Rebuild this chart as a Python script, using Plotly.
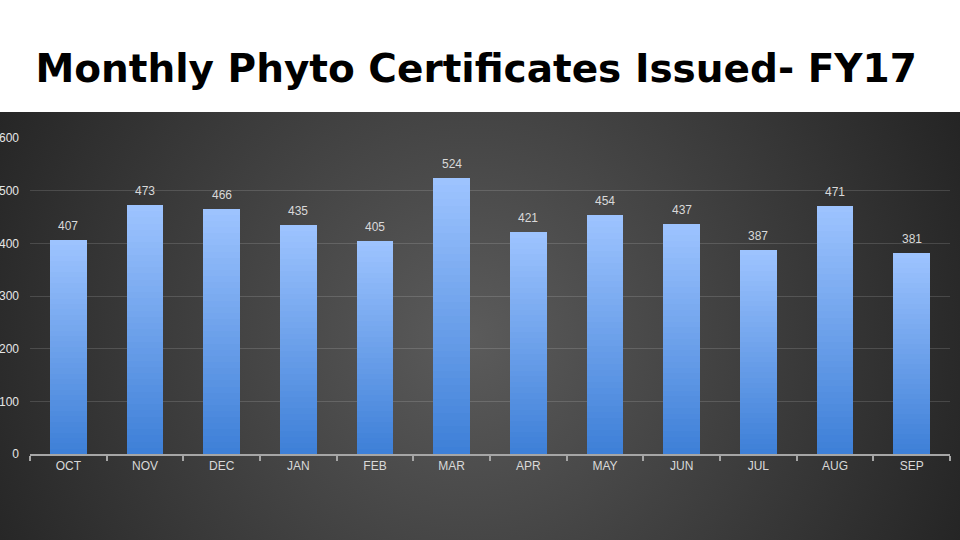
import base64
import plotly.graph_objects as go

months = ["OCT", "NOV", "DEC", "JAN", "FEB", "MAR", "APR", "MAY", "JUN", "JUL", "AUG", "SEP"]
certificates = [407, 473, 466, 435, 405, 524, 421, 454, 437, 387, 471, 381]
y_ticks = [0, 100, 200, 300, 400, 500, 600]
title_text = "Monthly Phyto Certificates Issued- FY17"

W, H = 960, 540
L, R, T, B = 30, 10, 138, 86

# radial gradient background panel (SVG)
svg = (
    '<svg xmlns="http://www.w3.org/2000/svg" width="960" height="428" viewBox="0 0 960 428">'
    '<defs><radialGradient id="g" gradientUnits="userSpaceOnUse" cx="470" cy="225" r="560">'
    '<stop offset="0" stop-color="#5b5b5b"/><stop offset="1" stop-color="#222222"/>'
    '</radialGradient></defs><rect width="960" height="428" fill="url(#g)"/></svg>'
)
src = "data:image/svg+xml;base64," + base64.b64encode(svg.encode()).decode()

pw, ph = W - L - R, H - T - B
panel_top = 112

fig = go.Figure()

# vertical gradient bars via stacked slices of each value
N = 40
c0 = (61, 127, 215)   # bottom
c1 = (158, 196, 255)  # top
for i in range(N):
    f = (i + 0.5) / N
    col = "rgb(%d,%d,%d)" % tuple(round(a + (b - a) * f) for a, b in zip(c0, c1))
    fig.add_trace(go.Bar(
        x=months, y=[v / N for v in certificates],
        marker=dict(color=col, line=dict(width=0)),
        showlegend=False, hoverinfo="skip",
    ))

annotations = [
    dict(x=m, y=v, text=str(v), showarrow=False, yanchor="bottom", yshift=5,
         font=dict(family="Liberation Sans, Arial, sans-serif", size=12, color="#d9d9d9"))
    for m, v in zip(months, certificates)
]

fig.update_layout(
    width=W, height=H,
    margin=dict(l=L, r=R, t=T, b=B, autoexpand=False),
    barmode="stack", bargap=0.52,
    paper_bgcolor="white", plot_bgcolor="rgba(0,0,0,0)",
    title=dict(
        text="<b>" + title_text + "</b>", x=0.496, xanchor="center",
        y=1 - 68 / H, yanchor="middle", yref="container",
        font=dict(family="DejaVu Sans, sans-serif", size=39, color="black"),
    ),
    annotations=annotations,
    images=[dict(
        source=src, xref="paper", yref="paper",
        x=-L / pw, y=(H - B - panel_top) / ph,
        sizex=W / pw, sizey=(H - panel_top) / ph,
        xanchor="left", yanchor="top", sizing="stretch", layer="below",
    )],
    xaxis=dict(
        automargin=False,
        showline=True, linecolor="#a6a6a6", linewidth=2,
        ticks="outside", tickson="boundaries", ticklen=5, tickwidth=2, tickcolor="#a6a6a6",
        tickfont=dict(family="Liberation Sans, Arial, sans-serif", size=12, color="#d9d9d9"),
        showgrid=False, zeroline=False,
    ),
    yaxis=dict(
        automargin=False,
        range=[0, 600], tickvals=y_ticks, ticktext=[str(t) for t in y_ticks],
        showgrid=True, gridcolor="rgba(255,255,255,0.14)", gridwidth=1,
        zeroline=False, showline=False, ticks="",
        ticklabelstandoff=10,
        tickfont=dict(family="Liberation Sans, Arial, sans-serif", size=12, color="#e6e6e6"),
    ),
)

fig.write_html(
    "out.html",
    config={"displayModeBar": False},
    post_script="document.body.style.margin='0';document.body.style.overflow='hidden';",
)
